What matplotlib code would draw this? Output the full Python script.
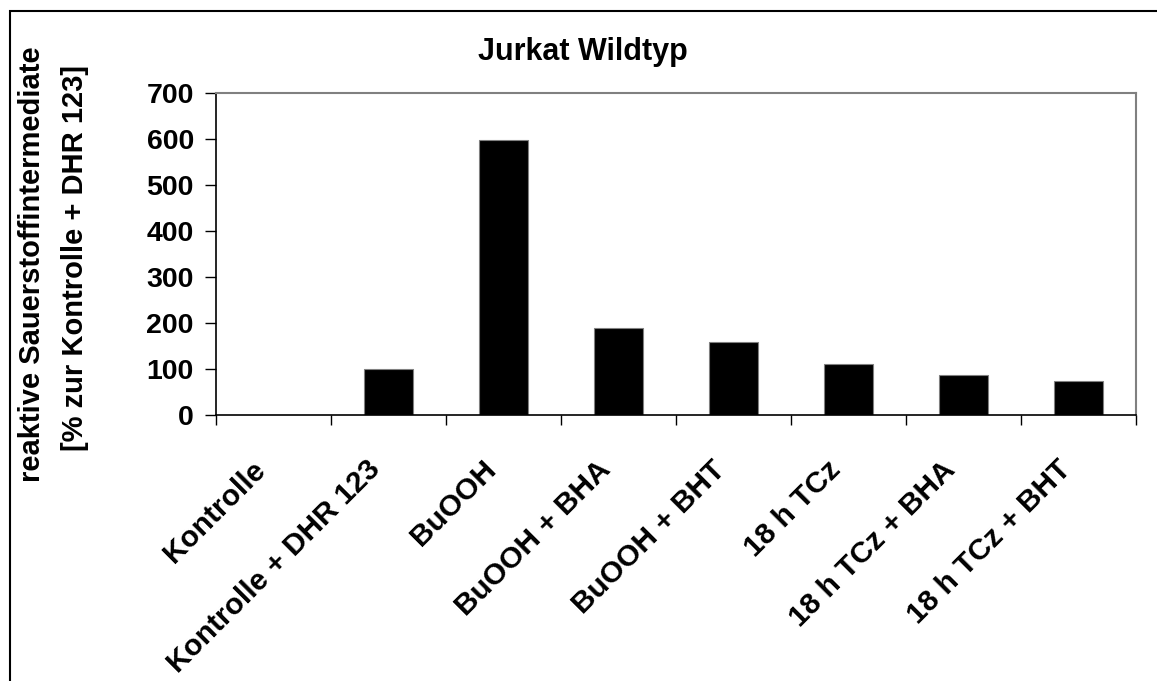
import matplotlib
matplotlib.use("Agg")
import matplotlib.pyplot as plt
from matplotlib.patches import Rectangle
from matplotlib.transforms import ScaledTranslation

# Werte
gruppen = ["Kontrolle", "Kontrolle + DHR 123", "BuOOH", "BuOOH + BHA",
           "BuOOH + BHT", "18 h TCz", "18 h TCz + BHA", "18 h TCz + BHT"]
werte = [0, 100, 598, 189, 158, 110, 88, 75]
y_ticks = [0, 100, 200, 300, 400, 500, 600, 700]

plt.rcParams["font.family"] = ["Liberation Sans", "DejaVu Sans"]
plt.rcParams["font.weight"] = "bold"

W, H = 1157, 681
fig = plt.figure(figsize=(W / 100, H / 100), dpi=100)
ax = fig.add_axes([216 / W, 1 - 415 / H, 920 / W, 322 / H])

pos = list(range(len(gruppen)))
ax.bar(pos, werte, width=0.43, color="black", edgecolor="#808080", linewidth=0.8)

ax.set_xlim(-0.5, len(gruppen) - 0.5)
ax.set_ylim(0, 700)
ax.set_yticks(y_ticks)
ax.set_yticklabels([str(v) for v in y_ticks], fontsize=20.5, fontweight="bold")

# Striche an den Kategoriegrenzen, Beschriftung in der Mitte
ax.set_xticks([p - 0.5 for p in pos] + [len(gruppen) - 0.5])
ax.set_xticklabels([])
ax.set_xticks(pos, minor=True)
ax.set_xticklabels(gruppen, minor=True, rotation=45, ha="right", va="top",
                   rotation_mode="anchor", fontsize=21.5, fontweight="bold")
ax.tick_params(axis="x", which="major", direction="out", length=7, width=1, color="black")
ax.tick_params(axis="x", which="minor", length=0, pad=29)
ax.tick_params(axis="y", direction="out", length=8, width=1, pad=8)

verschiebung = ScaledTranslation(-22 / 100, 0, fig.dpi_scale_trans)
for lab in ax.get_xticklabels(minor=True):
    lab.set_transform(lab.get_transform() + verschiebung)

for s in ["top", "right"]:
    ax.spines[s].set_color("#808080")
    ax.spines[s].set_linewidth(1.5)
for s in ["left", "bottom"]:
    ax.spines[s].set_color("black")
    ax.spines[s].set_linewidth(1.2)

fig.text(583 / W, 1 - 52 / H, "Jurkat Wildtyp", ha="center", va="center",
         fontsize=22, fontweight="bold")
fig.text(32 / W, 1 - 264 / H, "reaktive Sauerstoffintermediate", rotation=90,
         ha="center", va="center", fontsize=21, fontweight="bold")
fig.text(75 / W, 1 - 258 / H, "[% zur Kontrolle + DHR 123]", rotation=90,
         ha="center", va="center", fontsize=21, fontweight="bold")

# Rahmen um das Diagramm (rechts und unten abgeschnitten)
fig.patches.append(Rectangle((9.5 / W, -0.1), 1.2, 1 - 11 / H + 0.1,
                             transform=fig.transFigure, fill=False,
                             edgecolor="black", linewidth=1.5))

fig.savefig("out.png", dpi=100, facecolor="white")
